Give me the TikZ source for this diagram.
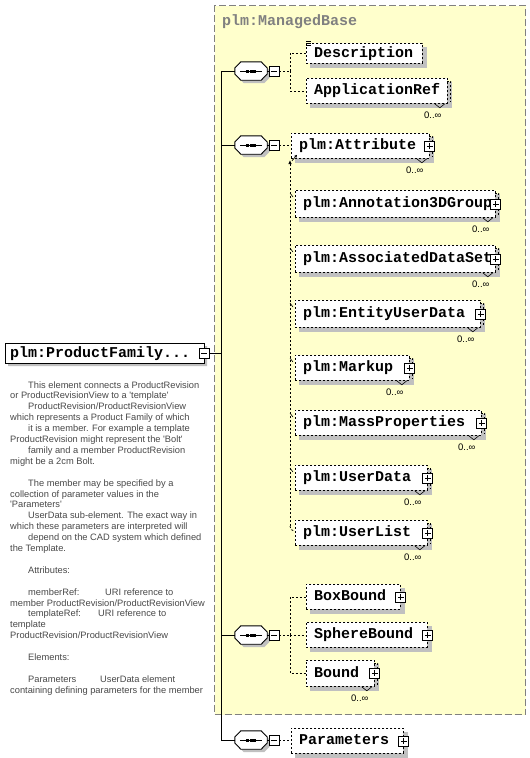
\documentclass[tikz,border=0pt]{standalone}
\usepackage{fontspec}
\setmainfont{Liberation Sans}
\newfontfamily\monob{Liberation Mono}
\usetikzlibrary{shapes.misc,shadows,calc,arrows.meta}
\definecolor{ybg}{RGB}{255,255,204}
\definecolor{fgray}{RGB}{128,128,128}
\definecolor{shc}{RGB}{192,192,192}
\definecolor{tgray}{RGB}{72,72,72}
\pgfdeclarelayer{yl}\pgfdeclarelayer{sh}\pgfdeclarelayer{md}
\pgfsetlayers{yl,sh,md,main}
\tikzset{
  elbox/.style={draw, fill=white, dash pattern=on 2pt off 2pt, line width=0.8pt, inner sep=0, anchor=north west},
  eltext/.style={anchor=base west, inner sep=0, font=\monob\bfseries\fontsize{15}{15}\selectfont},
  dtext/.style={anchor=base west, inner sep=0, text=tgray, font=\fontsize{9.3}{10.9}\selectfont},
  lbl/.style={anchor=base, inner sep=0, font=\fontsize{9.5}{10}\selectfont},
  dl/.style={dash pattern=on 2pt off 2pt, line width=0.8pt},
  sl/.style={line width=0.9pt},
  plusb/.style={draw, fill=white, solid, line width=0.8pt, minimum size=10pt, inner sep=0,
    path picture={\draw[line width=0.8pt] ([yshift=-2pt]path picture bounding box.north) -- ([yshift=2pt]path picture bounding box.south);
                  \draw[line width=0.8pt] ([xshift=2pt]path picture bounding box.west) -- ([xshift=-2pt]path picture bounding box.east);}},
  minusb/.style={draw, fill=white, solid, line width=0.8pt, minimum size=10pt, inner sep=0,
    path picture={\draw[line width=0.8pt] ([xshift=2pt]path picture bounding box.west) -- ([xshift=-2pt]path picture bounding box.east);}},
  compo/.style={rectangle, minimum width=32pt, minimum height=18pt, inner sep=0},
}
% element box: name, x, y, width, height, text
\newcommand\elem[6]{%
  \node[elbox, minimum width=#4pt, minimum height=#5pt] (#1) at (#2,#3) {};
  \begin{pgfonlayer}{sh}\fill[shc] ($(#1.north west)+(4,4)$) rectangle ($(#1.south east)+(4,4)$);\end{pgfonlayer}
  \node[eltext] (#1t) at ($(#1.west)+(8,4)$) {#6};}
% multiple occurrence marks
\newcommand\stackmark[1]{%
  \begin{pgfonlayer}{md}\draw[dl] ($(#1.north east)+(-1,3)$) -- ($(#1.north east)+(3,3)$) -- ($(#1.south east)+(3,-2)$);\end{pgfonlayer}
  \draw[line width=0.6pt] ($(#1.south east)+(-13,0)$) -- ($(#1.south east)+(-8,4)$) -- ($(#1.south east)+(-3,0)$);
  \node[lbl] (#1l) at ($(#1.south east)+(-15,15)$) {0..∞};}
\newcommand\plusat[1]{\node[plusb] (#1p) at (#1.east) {};}
% octagonal compositor outline and glyph around node #1
\newcommand\octa[2]{% name, offset
  ($(#1.west)+(#2,-3+#2)$) -- ($(#1.north west)+(6+#2,#2)$) -- ($(#1.north east)+(-6+#2,#2)$) --
  ($(#1.east)+(#2,-3+#2)$) -- ($(#1.east)+(#2,3+#2)$) -- ($(#1.south east)+(-6+#2,#2)$) --
  ($(#1.south west)+(6+#2,#2)$) -- ($(#1.west)+(#2,3+#2)$) -- cycle}
\newcommand\compglyph[1]{%
  \begin{pgfonlayer}{sh}\fill[shc] \octa{#1}{3};\end{pgfonlayer}
  \draw[sl, fill=white, line join=round] \octa{#1}{0};
  \draw[line width=0.9pt] ($(#1.center)+(-11,0)$) -- ($(#1.center)+(11,0)$);
  \fill ($(#1.center)+(-5,-1.5)$) rectangle ++(3,3);
  \fill ($(#1.center)+(-1.5,-1.5)$) rectangle ++(3,3);
  \fill ($(#1.center)+(2,-1.5)$) rectangle ++(3,3);}
\newcommand\dsc[4]{\node[dtext] (#1) at (#2,#3) {#4};}
\newcommand\q{\textquotesingle}

\begin{document}
\begin{tikzpicture}[x=1pt,y=-1pt]
\useasboundingbox (0,0) rectangle (530,758);

% ManagedBase group
\begin{pgfonlayer}{yl}
\node[draw=fgray, fill=ybg, dash pattern=on 7pt off 3pt, line width=1pt, minimum width=311pt, minimum height=709pt, anchor=north west, inner sep=0] (mb) at (214,5) {};
\end{pgfonlayer}
\node[eltext, text=fgray] (mbt) at (222,25) {plm:ManagedBase};

% main element
\node[chamfered rectangle, chamfered rectangle corners={north west,south west}, chamfered rectangle xsep=3pt,
      draw, fill=white, line width=0.9pt, minimum width=199pt, minimum height=20pt, inner sep=0,
      drop shadow={shadow xshift=3pt, shadow yshift=-3pt, fill=shc, opacity=1}] (main) at (104.5,353) {};
\node[eltext] (maint) at (10,357) {plm:ProductFamily...};
\node[minusb] (mainm) at (204,353) {};

% trunk
\coordinate (tt) at (221,71);
\coordinate (tb) at (221,740);
\draw[sl] (tt) -- (tb);
\draw[sl] (mainm.east) -- (mainm.east -| tt);

% compositors
\foreach \n/\yy in {s1/71, s2/145, s3/635, s4/740}{
  \node[compo] (\n) at (251,\yy) {};
  \compglyph{\n}
  \node[minusb] (\n m) at (274,\yy) {};
  \draw[sl] (\n.east) -- (\n m.west);
  \draw[sl] (\n.west -| tt) -- (\n.west);
}

% group 1
\elem{desc}{306}{43}{116}{20}{Description}
\foreach \k in {-2,0,2} \draw[line width=0.7pt] ($(desc.north west)+(0,\k)$) -- ++(5,0);
\elem{appref}{306}{78}{141}{25}{ApplicationRef}
\stackmark{appref}
\coordinate (v1) at (290,71);
\draw[dl] (s1m.east) -- (v1);
\draw[dl] (v1) |- (desc.west);
\draw[dl] (v1) |- (appref.west);

% group 2
\elem{attr}{291}{133}{138}{25}{plm:Attribute}
\stackmark{attr}\plusat{attr}
\draw[dl] (s2m.east) -- (s2m.east -| attr.west);

\elem{ann}{295}{190}{200}{27}{plm:Annotation3DGroup}
\stackmark{ann}\plusat{ann}
\elem{assoc}{295}{245}{200}{27}{plm:AssociatedDataSet}
\stackmark{assoc}\plusat{assoc}
\elem{entity}{295}{300}{185}{27}{plm:EntityUserData}
\stackmark{entity}\plusat{entity}
\elem{markup}{295}{355}{114}{25}{plm:Markup}
\stackmark{markup}\plusat{markup}
\elem{mass}{295}{410}{186}{25}{plm:MassProperties}
\stackmark{mass}\plusat{mass}
\elem{udata}{295}{465}{132}{25}{plm:UserData}
\stackmark{udata}\plusat{udata}
\elem{ulist}{295}{520}{132}{25}{plm:UserList}
\stackmark{ulist}\plusat{ulist}

% substitution group line
\coordinate (sgtop) at (290,160);
\coordinate (sgbot) at (290,526);
\draw[dl, -{Latex[length=4pt,width=3.5pt]}] (sgbot) -- (sgtop);
\draw[line width=0.7pt, -{Stealth[length=3pt,width=3pt]}] ($(attr.south west)+(1,2)$) -- ($(attr.south west)+(6,-4)$);
\draw[dl] (sgbot) to[out=-90,in=180] ($(ulist.north west)+(-1,11)$);
\foreach \m in {ann,assoc,entity,markup,mass,udata}
  \draw[line width=0.6pt] ($(\m.north west)+(-5,3)$) -- ($(\m.north west)+(-2,7)$);

% group 3
\elem{boxb}{306}{584}{94}{25}{BoxBound}
\plusat{boxb}
\elem{sphere}{306}{622}{121}{25}{SphereBound}
\plusat{sphere}
\elem{bound}{306}{660}{68}{26}{Bound}
\stackmark{bound}\plusat{bound}
\coordinate (v3) at (290,635);
\draw[dl] (s3m.east) -- (v3);
\draw[dl] (v3) |- (boxb.west);
\draw[dl] (v3) |- (sphere.west);
\draw[dl] (v3) |- (bound.west);

% group 4
\elem{params}{291}{728}{112}{25}{Parameters}
\plusat{params}
\draw[dl] (s4m.east) -- (s4m.east -| params.west);

% documentation
\dsc{d1}{28}{388}{This element connects a ProductRevision}
\dsc{d2}{10}{398.9}{or ProductRevisionView to a \q template\q}
\dsc{d3}{28}{409.8}{ProductRevision/ProductRevisionView}
\dsc{d4}{10}{420.7}{which represents a Product Family of which}
\dsc{d5}{28}{431.6}{it is a member. For example a template}
\dsc{d6}{10}{442.5}{ProductRevision might represent the \q Bolt\q}
\dsc{d7}{28}{453.4}{family and a member ProductRevision}
\dsc{d8}{10}{464.3}{might be a 2cm Bolt.}
\dsc{d10}{28}{486.1}{The member may be specified by a}
\dsc{d11}{10}{497.0}{collection of parameter values in the}
\dsc{d12}{10}{507.9}{\q Parameters\q}
\dsc{d13}{28}{518.8}{UserData sub-element. The exact way in}
\dsc{d14}{10}{529.7}{which these parameters are interpreted will}
\dsc{d15}{28}{540.6}{depend on the CAD system which defined}
\dsc{d16}{10}{551.5}{the Template.}
\dsc{d18}{28}{573.3}{Attributes:}
\dsc{d20}{28}{595.1}{memberRef:}
\dsc{d20b}{105}{595.1}{URI reference to}
\dsc{d21}{10}{606.0}{member ProductRevision/ProductRevisionView}
\dsc{d22}{28}{616.9}{templateRef:}
\dsc{d22b}{98}{616.9}{URI reference to}
\dsc{d23}{10}{627.8}{template}
\dsc{d24}{10}{638.7}{ProductRevision/ProductRevisionView}
\dsc{d26}{28}{660.5}{Elements:}
\dsc{d28}{28}{682.3}{Parameters}
\dsc{d28b}{100}{682.3}{UserData element}
\dsc{d29}{10}{693.2}{containing defining parameters for the member}
\end{tikzpicture}
\end{document}
